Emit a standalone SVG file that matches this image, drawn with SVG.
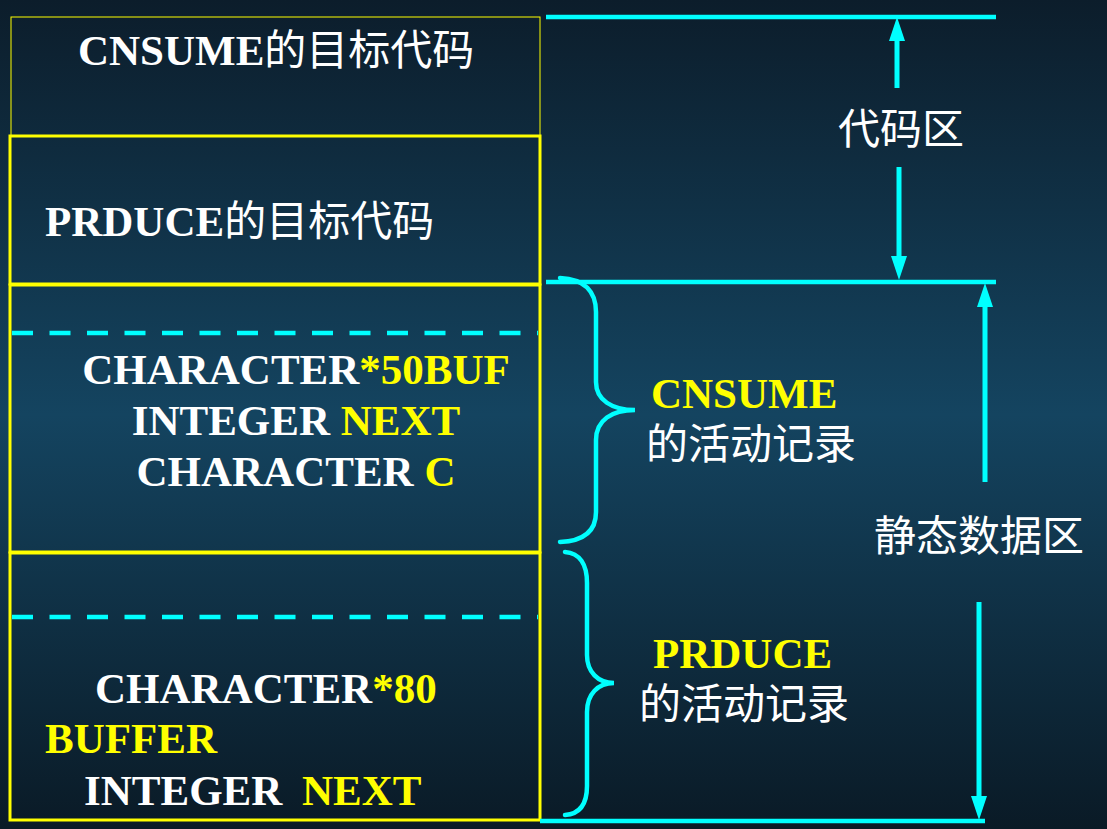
<svg xmlns="http://www.w3.org/2000/svg" width="1107" height="829" viewBox="0 0 1107 829">
<defs>
<linearGradient id="bg" x1="0" y1="0" x2="0" y2="1">
<stop offset="0" stop-color="#0c1d2b"/>
<stop offset="0.5" stop-color="#144460"/>
<stop offset="1" stop-color="#0a1a26"/>
</linearGradient>
<marker id="ah" markerUnits="userSpaceOnUse" markerWidth="24" markerHeight="16" viewBox="0 -8 24 16" refX="0" refY="0" orient="auto">
<path d="M0,-8 L24,0 L0,8 z" fill="#00ffff"/>
</marker>
<style>
.box{fill:none;stroke:#ffff00;stroke-width:3}
.thin{fill:none;stroke:#ffff00;stroke-width:1}
.dash{stroke:#00ffff;stroke-width:4.5;stroke-dasharray:21 16.5;fill:none}
.cy{stroke:#00ffff;stroke-width:4.5;fill:none}
.arr{stroke:#00ffff;stroke-width:5;fill:none;marker-end:url(#ah)}
.brace{stroke:#00ffff;stroke-width:4.5;fill:none;stroke-linecap:round}
.lat{font-family:"Liberation Serif","Times New Roman",serif;font-weight:bold;font-size:43px}
.cjk{font-family:"Noto Sans CJK SC","Noto Sans",sans-serif;font-weight:normal;font-size:42px}
.w{fill:#ffffff}
.y{fill:#ffff00}
</style>
</defs>
<rect x="0" y="0" width="1107" height="829" fill="url(#bg)"/>

<g id="cnsume-code">
<rect class="thin" x="11" y="17" width="529" height="119"/>
<text x="78" y="65" class="w"><tspan class="lat">CNSUME</tspan><tspan class="cjk">的目标代码</tspan></text>
</g>

<g id="prduce-code">
<rect class="box" x="10" y="136" width="530" height="148"/>
<text x="45" y="236" class="w"><tspan class="lat">PRDUCE</tspan><tspan class="cjk">的目标代码</tspan></text>
</g>

<g id="cnsume-record">
<rect class="box" x="10" y="285" width="530" height="267"/>
<line class="dash" x1="12" y1="333" x2="538" y2="333"/>
<text class="lat" text-anchor="middle"><tspan x="296" y="384" class="w">CHARACTER<tspan class="y">*50BUF</tspan></tspan><tspan x="296" y="435" class="w">INTEGER <tspan class="y">NEXT</tspan></tspan><tspan x="296" y="486" class="w">CHARACTER <tspan class="y">C</tspan></tspan></text>
</g>

<g id="prduce-record">
<rect class="box" x="10" y="553" width="530" height="267"/>
<line class="dash" x1="12" y1="617" x2="538" y2="617"/>
<text class="lat"><tspan x="95" y="703" class="w">CHARACTER<tspan class="y">*80</tspan></tspan><tspan x="45" y="753" class="y">BUFFER</tspan><tspan x="84" y="805" class="w">INTEGER</tspan><tspan x="302" y="805" class="y">NEXT</tspan></text>
</g>

<g id="connectors">
<line class="cy" x1="546" y1="17" x2="996" y2="17"/>
<line class="cy" x1="546" y1="282" x2="996" y2="282"/>
<line class="cy" x1="540" y1="821" x2="985" y2="821"/>
<line class="arr" x1="897" y1="88" x2="897" y2="41"/>
<line class="arr" x1="899" y1="167" x2="899" y2="256"/>
<line class="arr" x1="985" y1="482" x2="985" y2="307"/>
<line class="arr" x1="979" y1="602" x2="979" y2="796"/>
<path class="brace" d="M560,278 C585,279 596,292 596,312 L596,382 C596,400 612,410 635,410 C612,410 596,420 596,440 L596,512 C596,530 585,541 560,542"/>
<path class="brace" d="M565,552 C580,553 587,565 587,583 L587,655 C587,672 598,683 614,683 C598,683 587,694 587,712 L587,786 C587,804 580,814 565,815"/>
</g>

<g id="label-code-area">
<text x="838" y="144" class="cjk w">代码区</text>
</g>
<g id="label-cnsume">
<text x="651" y="408" class="lat y">CNSUME</text>
<text x="646" y="459" class="cjk w">的活动记录</text>
</g>
<g id="label-static">
<text x="874" y="551" class="cjk w">静态数据区</text>
</g>
<g id="label-prduce">
<text x="653" y="668" class="lat y">PRDUCE</text>
<text x="639" y="719" class="cjk w">的活动记录</text>
</g>
</svg>
